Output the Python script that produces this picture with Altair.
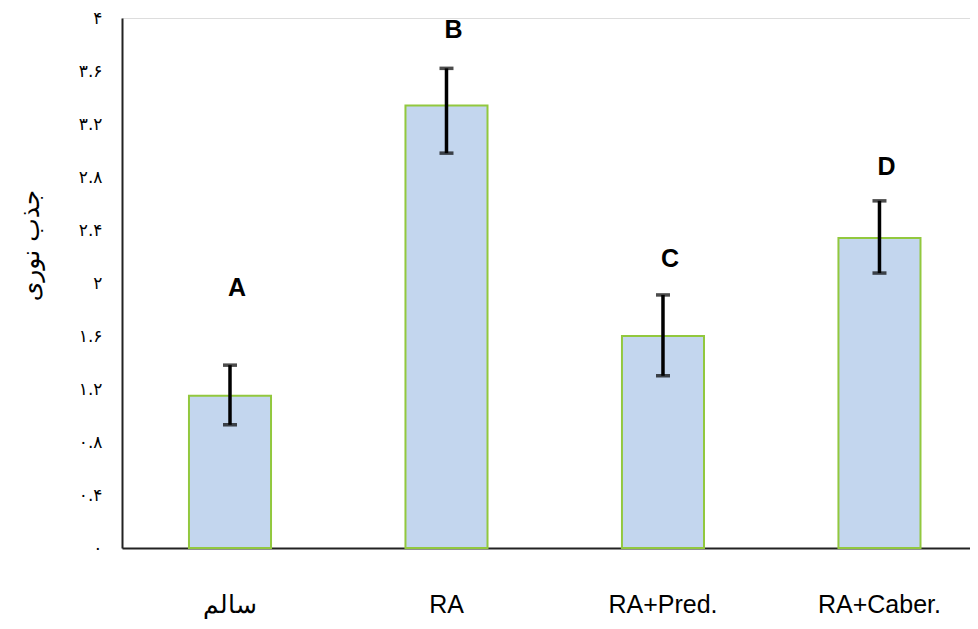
import altair as alt
import pandas as pd

groups = ["سالم", "RA", "RA+Pred.", "RA+Caber."]
values = [1.15, 3.34, 1.60, 2.34]
err_low = [0.93, 2.98, 1.30, 2.075]
err_high = [1.38, 3.62, 1.91, 2.62]
letters = ["A", "B", "C", "D"]
letter_y = [1.96, 3.91, 2.18, 2.875]

y_ticks = [0, 0.4, 0.8, 1.2, 1.6, 2.0, 2.4, 2.8, 3.2, 3.6, 4.0]
y_labels = ["۰", "۰.۴", "۰.۸", "۱.۲", "۱.۶", "۲", "۲.۴", "۲.۸", "۳.۲", "۳.۶", "۴"]
y_title = "جذب نوری"

df = pd.DataFrame({
    "group": groups, "value": values, "lo": err_low, "hi": err_high,
    "letter": letters, "ly": letter_y,
})

label_arr = "[" + ",".join("'" + s + "'" for s in y_labels) + "]"

x_enc = alt.X("group:N", sort=groups, title=None,
              scale=alt.Scale(paddingInner=0.621, paddingOuter=0.269, align=0.575),
              axis=alt.Axis(labelAngle=0, labelFontSize=25, labelFont="Liberation Sans",
                            labelColor="#000", labelPadding=44, ticks=False,
                            domainColor="#222", domainWidth=2))
y_scale = alt.Scale(domain=[0, 4], nice=False)

bars = alt.Chart(df).mark_bar(color="#c3d6ee", stroke="#92c83e", strokeWidth=2).encode(
    x=x_enc,
    y=alt.Y("value:Q", scale=y_scale, title=y_title,
            axis=alt.Axis(values=y_ticks, labelExpr=label_arr + "[round(datum.value/0.4)]",
                          grid=False, ticks=False, labelFontSize=17, labelPadding=20,
                          labelFont="DejaVu Sans", labelColor="#000",
                          domainColor="#222", domainWidth=2,
                          titleFontSize=25, titleFont="DejaVu Sans", titleFontWeight="normal",
                          titleColor="#000", titleX=-92, titleY=227, titleAngle=270,
                          titleAlign="center", titleBaseline="middle")),
)

rules = alt.Chart(df).mark_rule(color="#000", strokeWidth=3.5).encode(
    x=alt.X("group:N", sort=groups), y=alt.Y("lo:Q", scale=y_scale), y2="hi:Q")

caps_lo = alt.Chart(df).mark_tick(color="#000", thickness=3.5, size=14).encode(
    x=alt.X("group:N", sort=groups), y=alt.Y("lo:Q", scale=y_scale))
caps_hi = alt.Chart(df).mark_tick(color="#000", thickness=3.5, size=14).encode(
    x=alt.X("group:N", sort=groups), y=alt.Y("hi:Q", scale=y_scale))

text = alt.Chart(df).mark_text(fontSize=25, fontWeight="bold", font="Liberation Sans",
                               color="#000", dx=7, baseline="middle").encode(
    x=alt.X("group:N", sort=groups), y=alt.Y("ly:Q", scale=y_scale), text="letter:N")

chart = alt.layer(bars, rules, caps_lo, caps_hi, text).properties(
    width=848, height=530,
    autosize=alt.AutoSizeParams(type="none"),
    padding={"left": 114, "top": 10, "right": 0, "bottom": 72},
).configure_view(stroke=None).configure(background="white")

chart.save("out.html", embed_options={"renderer": "svg", "actions": False})
